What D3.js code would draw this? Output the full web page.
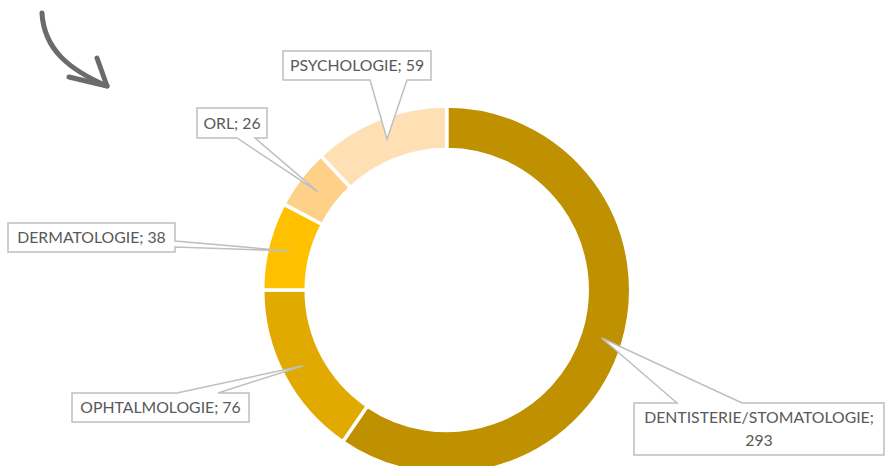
<!DOCTYPE html>
<html>
<head>
<meta charset="utf-8">
<script src="https://cdn.jsdelivr.net/npm/d3@7"></script>
<style>
  html, body { margin: 0; padding: 0; background: #fff; }
  svg { display: block; }
  .lbl { font-family: Lato, "Open Sans", sans-serif; font-size: 15.8px; fill: #595959; }
</style>
</head>
<body>
<svg></svg>
<script>
var categories = ["DENTISTERIE/STOMATOLOGIE", "OPHTALMOLOGIE", "DERMATOLOGIE", "ORL", "PSYCHOLOGIE"];
var values = [293, 76, 38, 26, 59];
var colors = ["#BF9000", "#E1AA00", "#FFC000", "#FFD087", "#FFE0B5"];

var svgWidth = 885;
var svgHeight = 466;
var cx = 446.7, cy = 290;
var outerR = 184, innerR = 140.5;

// callout boxes: x, y, w, h, side the tail leaves from, tail base positions along that side
var callouts = [
	{ box: [634, 403, 250, 52], side: "top", base: [677, 742], lines: ["DENTISTERIE/STOMATOLOGIE;", "293"] },
	{ box: [72, 393, 177, 29], side: "top", base: [177, 218] },
	{ box: [8, 223, 167, 29], side: "right", base: [241, 247] },
	{ box: [197, 108, 70, 30], side: "bottom", base: [237, 255] },
	{ box: [283, 51, 148, 29], side: "bottom", base: [370, 407] }
];

var svg = d3.select("svg")
	.attr("width", svgWidth)
	.attr("height", svgHeight);

var pie = d3.pie()
	.value(function(d) { return d; })
	.sort(null);

var arc = d3.arc()
	.innerRadius(innerR)
	.outerRadius(outerR);

var midArc = d3.arc()
	.innerRadius((innerR + outerR) / 2)
	.outerRadius((innerR + outerR) / 2);

var arcs = pie(values);

var g = svg.append("g")
	.attr("transform", "translate(" + cx + "," + cy + ")");

g.selectAll("path.slice")
	.data(arcs)
	.enter()
	.append("path")
	.attr("class", "slice")
	.attr("d", arc)
	.attr("fill", function(d, i) { return colors[i]; })
	.attr("stroke", "#fff")
	.attr("stroke-width", 3.5);

// callout shape: rectangle with a wedge pointing at the slice
function calloutPath(c, tip) {
	var x0 = c.box[0], y0 = c.box[1], x1 = x0 + c.box[2], y1 = y0 + c.box[3];
	var p = d3.path();
	var b = c.base;
	if (c.side === "top") {
		p.moveTo(x0, y0); p.lineTo(b[0], y0); p.lineTo(tip[0], tip[1]); p.lineTo(b[1], y0);
		p.lineTo(x1, y0); p.lineTo(x1, y1); p.lineTo(x0, y1);
	} else if (c.side === "bottom") {
		p.moveTo(x0, y0); p.lineTo(x1, y0); p.lineTo(x1, y1); p.lineTo(b[1], y1);
		p.lineTo(tip[0], tip[1]); p.lineTo(b[0], y1); p.lineTo(x0, y1);
	} else {
		p.moveTo(x0, y0); p.lineTo(x1, y0); p.lineTo(x1, b[0]); p.lineTo(tip[0], tip[1]);
		p.lineTo(x1, b[1]); p.lineTo(x1, y1); p.lineTo(x0, y1);
	}
	p.closePath();
	return p.toString();
}

var labels = svg.selectAll("g.callout")
	.data(arcs)
	.enter()
	.append("g")
	.attr("class", "callout");

labels.append("path")
	.attr("d", function(d, i) {
		var c = midArc.centroid(d);
		return calloutPath(callouts[i], [c[0] + cx, c[1] + cy]);
	})
	.attr("fill", "#fff")
	.attr("stroke", "#bfbfbf")
	.attr("stroke-width", 1.5)
	.attr("stroke-linejoin", "miter");

labels.each(function(d, i) {
	var c = callouts[i];
	var lines = c.lines || [categories[i] + "; " + values[i]];
	var t = d3.select(this).append("text")
		.attr("class", "lbl")
		.attr("text-anchor", "middle");
	var lh = 22.5;
	var startY = c.box[1] + c.box[3] / 2 - (lines.length - 1) * lh / 2 + 5.5;
	lines.forEach(function(s, k) {
		t.append("tspan")
			.attr("x", c.box[0] + c.box[2] / 2)
			.attr("y", startY + k * lh)
			.text(s);
	});
});

// decorative hand-drawn arrow in the corner
var arrow = svg.append("g")
	.attr("fill", "none")
	.attr("stroke", "#6b6b6b")
	.attr("stroke-linecap", "round")
	.attr("stroke-linejoin", "round");
arrow.append("path")
	.attr("d", "M42,13 C44,50 70,70 107,86")
	.attr("stroke-width", 5);
arrow.append("path")
	.attr("d", "M97,58 L107,86 L69,77")
	.attr("stroke-width", 5);
</script>
</body>
</html>
